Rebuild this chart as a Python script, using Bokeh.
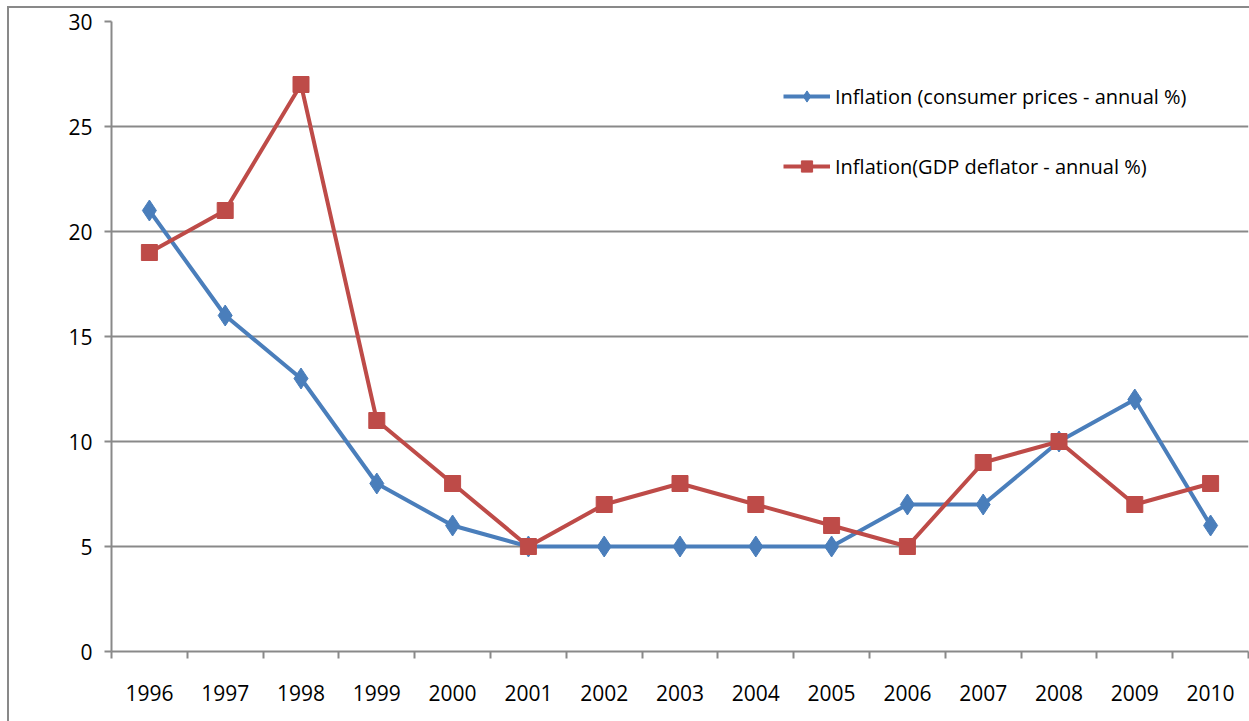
from bokeh.plotting import figure
from bokeh.models import Range1d, FixedTicker, Legend, LegendItem, ColumnDataSource
from bokeh.embed import file_html
from bokeh.resources import INLINE

years = ["1996", "1997", "1998", "1999", "2000", "2001", "2002", "2003",
         "2004", "2005", "2006", "2007", "2008", "2009", "2010"]
cpi = [21, 16, 13, 8, 6, 5, 5, 5, 5, 5, 7, 7, 10, 12, 6]
gdp = [19, 21, 27, 11, 8, 5, 7, 8, 7, 6, 5, 9, 10, 7, 8]
y_ticks = [0, 5, 10, 15, 20, 25, 30]
label_cpi = "Inflation (consumer prices - annual %)"
label_gdp = "Inflation(GDP deflator - annual %)"

xs = [i + 0.5 for i in range(len(years))]
src = ColumnDataSource(dict(x=xs, cpi=cpi, gdp=gdp))

FONT = "Open Sans"
GRAY = "#898989"
BLUE = "#4A7EBB"
RED = "#BE4B48"

p = figure(width=1242, height=715, output_backend="svg", toolbar_location=None,
           x_range=Range1d(0, len(years)), y_range=Range1d(0, 30),
           min_border_left=102, min_border_top=13, min_border_bottom=72,
           min_border_right=3, outline_line_color=None,
           margin=(6, 0, 0, 7),
           styles={"border-left": f"2px solid {GRAY}", "border-top": f"2px solid {GRAY}"})

p.background_fill_color = "white"
p.border_fill_color = "white"

# x axis
xt = FixedTicker(ticks=xs, minor_ticks=list(range(len(years) + 1)))
p.xaxis.ticker = xt
p.xaxis.major_label_overrides = {x: y for x, y in zip(xs, years)}
p.xaxis.major_tick_out = 0
p.xaxis.major_tick_in = 0
p.xaxis.minor_tick_out = 7
p.xaxis.minor_tick_in = 0
p.xaxis.minor_tick_line_color = GRAY
p.xaxis.minor_tick_line_width = 2
p.xaxis.axis_line_color = GRAY
p.xaxis.axis_line_width = 2
p.xaxis.major_label_text_font = FONT
p.xaxis.major_label_text_font_size = "21px"
p.xaxis.major_label_text_color = "black"
p.xaxis.major_label_standoff = 26
p.xgrid.grid_line_color = None

# y axis
p.yaxis.ticker = FixedTicker(ticks=y_ticks)
p.yaxis.minor_tick_line_color = None
p.yaxis.major_tick_out = 7
p.yaxis.major_tick_in = 0
p.yaxis.major_tick_line_color = GRAY
p.yaxis.major_tick_line_width = 2
p.yaxis.axis_line_color = GRAY
p.yaxis.axis_line_width = 2
p.yaxis.major_label_text_font = FONT
p.yaxis.major_label_text_font_size = "21px"
p.yaxis.major_label_text_color = "black"
p.yaxis.major_label_standoff = 12
p.ygrid.grid_line_color = GRAY
p.ygrid.grid_line_width = 2

l1 = p.line("x", "cpi", source=src, line_color=BLUE, line_width=4)
m1 = p.scatter("x", "cpi", source=src, marker="diamond", size=21,
               fill_color=BLUE, line_color=BLUE)
l2 = p.line("x", "gdp", source=src, line_color=RED, line_width=4)
m2 = p.scatter("x", "gdp", source=src, marker="square", size=16,
               fill_color=RED, line_color=RED)

legend = Legend(items=[LegendItem(label=label_cpi, renderers=[l1, m1]),
                       LegendItem(label=label_gdp, renderers=[l2, m2])],
                location=(672, 471), orientation="vertical")
legend.glyph_width = 47
legend.glyph_height = 28
legend.label_height = 28
legend.spacing = 42
legend.padding = 0
legend.margin = 0
legend.label_standoff = 5
legend.border_line_color = None
legend.background_fill_alpha = 0
legend.label_text_font = FONT
legend.label_text_font_size = "20px"
legend.label_text_color = "black"
p.add_layout(legend)

open("out.html", "w").write(file_html(p, INLINE))
